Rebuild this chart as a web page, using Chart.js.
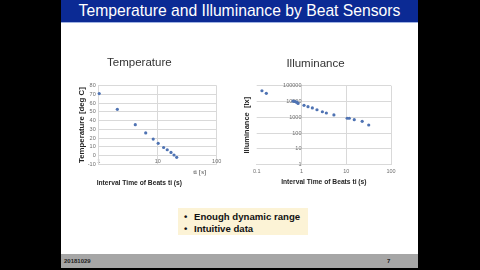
<!DOCTYPE html>
<html>
<head>
<meta charset="utf-8">
<script src="https://cdn.jsdelivr.net/npm/chart.js@4.4.1/dist/chart.umd.min.js"></script>
<style>
    html, body { margin: 0; padding: 0; width: 480px; height: 270px; overflow: hidden; background: #000; font-family: "Liberation Sans", Arial, sans-serif; }
    #slide { position: absolute; left: 61px; top: 0; width: 357px; height: 268px; background: #fff; }
    #header { position: absolute; left: 61px; top: 0; width: 357px; height: 22px; background: #0b2a94; border-bottom: 1px solid #9fb2e2; color: #fff; font-size: 15.7px; line-height: 22px; text-align: center; }
    #footer { position: absolute; left: 61px; top: 254px; width: 357px; height: 14px; background: #a6a6a6; color: #222; font-size: 6px; font-weight: bold; line-height: 14px; }
    #footer .date { position: absolute; left: 3px; }
    #footer .page { position: absolute; left: 326px; }
    #notes { position: absolute; left: 178px; top: 208px; width: 130px; height: 27px; background: #fcf3d6; color: #111; font-size: 9.6px; font-weight: bold; }
    #notes div { position: absolute; left: 16px; white-space: nowrap; }
    #notes span { position: absolute; left: -10px; }
    canvas { position: absolute; }
    #temp-chart { left: 62px; top: 45px; }
    #illum-chart { left: 240px; top: 45px; }
</style>
</head>
<body>
<div id="slide"></div>
<div id="header">Temperature and Illuminance by Beat Sensors</div>
<canvas id="temp-chart" width="176" height="150"></canvas>
<canvas id="illum-chart" width="176" height="150"></canvas>
<div id="notes">
    <div style="top:3px"><span>•</span>Enough dynamic range</div>
    <div style="top:14.5px"><span>•</span>Intuitive data</div>
</div>
<div id="footer"><span class="date">20181029</span><span class="page">7</span></div>

<script>
// --- Data ---
const tempX = [1.02, 2.07, 4.17, 6.26, 8.4, 10.2, 12.6, 14.5, 16.8, 18.9, 21];
const tempY = [71, 53, 35.5, 26, 19, 14.2, 9.4, 6.8, 3.8, 0.8, -1.9];
const tempXTicks = [1, 10, 100];
const tempYTicks = [-10, 0, 10, 20, 30, 40, 50, 60, 70, 80];

const illumX = [0.131, 0.164, 0.65, 0.71, 0.75, 0.79, 0.84, 1.14, 1.4, 1.75, 2.22, 2.93, 3.6, 5.3, 10.5, 11.7, 15.1, 22.7, 31.8];
const illumY = [48000, 33000, 10500, 10000, 9500, 8900, 7600, 5700, 4700, 3900, 3000, 2250, 1870, 1420, 870, 870, 710, 560, 325];
const illumXTicks = [0.1, 1, 10, 100];
const illumYTicks = [1, 10, 100, 1000, 10000, 100000];

// --- Shared styles ---
const SANS = '"Liberation Sans", Arial, sans-serif';
const POINT = '#4f73b3';
const GRID = '#d9d9d9';
const TICK = '#6e6e6e';

Chart.defaults.font.family = SANS;

function fixedTicks(values) {
    return (scale) => { scale.ticks = values.map(v => ({ value: v })); };
}

function points(xs, ys) {
    return xs.map((x, i) => ({ x: x, y: ys[i] }));
}

const tickFont = { size: 5.5 };

// Temperature chart
new Chart(document.getElementById('temp-chart'), {
    type: 'scatter',
    data: {
        datasets: [{
            data: points(tempX, tempY),
            backgroundColor: POINT,
            borderWidth: 0,
            pointRadius: 1.6,
            clip: false
        }]
    },
    options: {
        responsive: false,
        animation: false,
        layout: { padding: { left: 0, right: 21.3, top: 0, bottom: 0 } },
        plugins: {
            legend: { display: false },
            tooltip: { enabled: false },
            title: {
                display: true,
                text: 'Temperature',
                color: '#333',
                font: { size: 11.5, weight: 'normal' },
                padding: { top: 10.8, bottom: 16.1 }
            },
            subtitle: {
                display: true,
                position: 'bottom',
                text: 'Interval Time of Beats ti (s)',
                color: '#262626',
                font: { size: 6.7, weight: 'bold' },
                padding: { top: 14.5, bottom: 8 }
            }
        },
        scales: {
            x: {
                type: 'logarithmic',
                position: { y: 0 },   // axis crosses at 0 deg, like the Excel original
                min: 1,
                max: 100,
                afterBuildTicks: fixedTicks(tempXTicks),
                grid: { color: GRID, drawTicks: false },
                border: { color: GRID },
                ticks: { font: tickFont, color: TICK, padding: 2, maxRotation: 0, autoSkip: false, callback: v => String(v) },
                title: {
                    display: true,
                    // trailing spaces pull the label left of the plot edge, as on the slide
                    text: 'ti [s]\u00a0\u00a0\u00a0\u00a0\u00a0\u00a0',
                    align: 'end',
                    color: '#404040',
                    font: { family: '"Liberation Serif", serif', size: 7 },
                    padding: { top: 2, bottom: 0 }
                }
            },
            y: {
                type: 'linear',
                min: -10,
                max: 80,
                afterBuildTicks: fixedTicks(tempYTicks),
                afterFit: (s) => { s.width = 36.7; },
                grid: { color: GRID, drawTicks: false },
                border: { color: GRID },
                ticks: { font: tickFont, color: TICK, padding: 3, autoSkip: false },
                title: {
                    display: true,
                    text: 'Temperature [deg C]',
                    color: '#262626',
                    font: { size: 7.8, weight: 'bold' },
                    padding: { top: 15, bottom: 0 }
                }
            }
        }
    }
});

// Illuminance chart
new Chart(document.getElementById('illum-chart'), {
    type: 'scatter',
    data: {
        datasets: [{
            data: points(illumX, illumY),
            backgroundColor: POINT,
            borderWidth: 0,
            pointRadius: 1.6
        }]
    },
    options: {
        responsive: false,
        animation: false,
        layout: { padding: { left: 0, right: 25, top: 0, bottom: 0 } },
        plugins: {
            legend: { display: false },
            tooltip: { enabled: false },
            title: {
                display: true,
                text: 'Illuminance',
                color: '#333',
                font: { size: 11.5, weight: 'normal' },
                padding: { top: 12.1, bottom: 14.8 }
            }
        },
        scales: {
            x: {
                type: 'logarithmic',
                position: 'bottom',
                min: 0.1,
                max: 100,
                afterBuildTicks: fixedTicks(illumXTicks),
                afterFit: (s) => { s.height = 30.3; },
                grid: {
                    color: (ctx) => (ctx.tick && ctx.tick.value === 0.1 ? 'rgba(0,0,0,0)' : GRID),
                    drawTicks: false
                },
                border: { color: GRID },
                ticks: { font: tickFont, color: TICK, padding: 3, maxRotation: 0, autoSkip: false, callback: v => String(v) },
                title: {
                    display: true,
                    text: 'Interval Time of Beats ti (s)',
                    color: '#262626',
                    font: { size: 6.7, weight: 'bold' },
                    padding: { top: 0, bottom: 9 }
                }
            },
            y: {
                type: 'logarithmic',
                position: { x: 1 },   // value axis crosses at 1 s
                min: 1,
                max: 100000,
                afterBuildTicks: fixedTicks(illumYTicks),
                grid: { color: GRID, drawTicks: false },
                border: { color: GRID },
                ticks: { font: tickFont, color: TICK, padding: 4, autoSkip: false, callback: v => String(v) }
            },
            // empty axis on the left edge, only carries the title
            y2: {
                position: 'left',
                afterFit: (s) => { s.width = 16.7; },
                grid: { display: false },
                border: { display: false },
                ticks: { display: false },
                title: {
                    display: true,
                    text: 'Illuminance  [lx]',
                    color: '#262626',
                    font: { size: 7.5, weight: 'bold' },
                    padding: { top: 2.5, bottom: 0 }
                }
            }
        }
    }
});
</script>
</body>
</html>
